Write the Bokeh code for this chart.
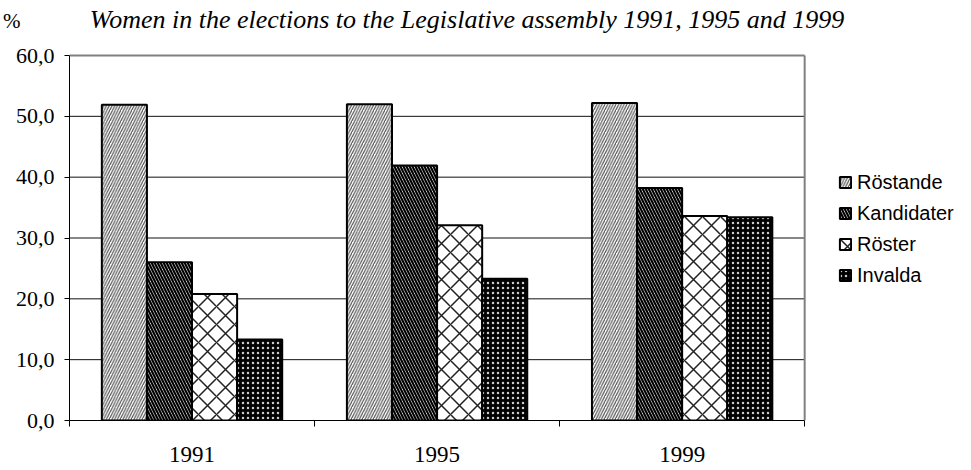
from bokeh.plotting import figure
from bokeh.models import (ColumnDataSource, FixedTicker, Legend, LegendItem, Label,
                          Range1d, LinearAxis)
from bokeh.transform import dodge
from bokeh.embed import file_html
from bokeh.resources import INLINE

# ---- data ----
years = ["1991", "1995", "1999"]
series_names = ["Röstande", "Kandidater", "Röster", "Invalda"]
rostande = [51.9, 52.0, 52.2]
kandidater = [26.0, 41.9, 38.2]
roster = [20.8, 32.1, 33.6]
invalda = [13.3, 23.3, 33.4]
y_ticks = [0, 10, 20, 30, 40, 50, 60]
y_tick_labels = ["0,0", "10,0", "20,0", "30,0", "40,0", "50,0", "60,0"]
title_text = "Women in the elections to the Legislative assembly 1991, 1995 and 1999"
unit_text = "%"

# ---- layout constants ----
W, H = 955, 470
LEFT, BOTTOM = 68, 50
PLOT_RIGHT_PX, PLOT_TOP_PX = 804, 55          # where the chart box ends
n = len(years)
ymax = y_ticks[-1]
px_per_x = (PLOT_RIGHT_PX - LEFT) / n
px_per_y = (H - BOTTOM - PLOT_TOP_PX) / ymax
x_end = (W - LEFT) / px_per_x
y_end = (H - BOTTOM) / px_per_y

xpos = [i + 0.5 for i in range(n)]
src = ColumnDataSource(dict(x=xpos, Röstande=rostande, Kandidater=kandidater,
                            Röster=roster, Invalda=invalda))

p = figure(width=W, height=H, output_backend="svg", toolbar_location=None,
           x_range=Range1d(0, x_end), y_range=Range1d(0, y_end),
           min_border_left=LEFT, min_border_right=0, min_border_top=0,
           min_border_bottom=BOTTOM)
p.background_fill_color = "white"
p.border_fill_color = "white"
p.outline_line_color = None
p.grid.visible = False

# horizontal grid lines limited to the chart box
grid_vals = y_ticks[1:-1]
p.segment(x0=[0] * len(grid_vals), x1=[n] * len(grid_vals), y0=grid_vals, y1=grid_vals,
          line_color="#111111", line_width=1)

# y axis
p.yaxis.ticker = FixedTicker(ticks=y_ticks)
p.yaxis.bounds = (0, ymax)
p.yaxis.major_label_overrides = {t: l for t, l in zip(y_ticks, y_tick_labels)}
p.yaxis.major_tick_in = 0
p.yaxis.major_tick_out = 5
p.yaxis.minor_tick_line_color = None
p.yaxis.major_label_standoff = 10
p.yaxis.axis_line_color = "black"
p.yaxis.major_tick_line_color = "black"
p.yaxis.major_label_text_font = "Liberation Serif"
p.yaxis.major_label_text_font_size = "22px"
p.yaxis.major_label_text_color = "black"

# unit "%" shown as an outer left axis label
unit_pos = y_end - 20 / px_per_y
unit_axis = LinearAxis(ticker=FixedTicker(ticks=[unit_pos]),
                       major_label_overrides={unit_pos: unit_text},
                       axis_line_color=None, major_tick_line_color=None,
                       minor_tick_line_color=None, major_tick_in=0, major_tick_out=0,
                       major_label_standoff=-8,
                       major_label_text_font="Liberation Serif",
                       major_label_text_font_size="21px",
                       major_label_text_color="black")
p.add_layout(unit_axis, "left")

# x axis
p.xaxis.ticker = FixedTicker(ticks=xpos, minor_ticks=list(range(n + 1)))
p.xaxis.bounds = (0, n)
p.xaxis.major_label_overrides = {x: y for x, y in zip(xpos, years)}
p.xaxis.major_tick_line_color = None
p.xaxis.major_tick_out = 0
p.xaxis.major_tick_in = 0
p.xaxis.minor_tick_in = 0
p.xaxis.minor_tick_out = 6
p.xaxis.minor_tick_line_color = "black"
p.xaxis.axis_line_color = "black"
p.xaxis.major_label_standoff = 20
p.xaxis.major_label_text_font = "Liberation Serif"
p.xaxis.major_label_text_font_size = "23px"
p.xaxis.major_label_text_color = "black"

# chart box top and right edges
p.segment(x0=[0, n], y0=[ymax, 0], x1=[n, n], y1=[ymax, ymax],
          line_color="#808080", line_width=2)

w = 0.184
offsets = [-0.276, -0.092, 0.092, 0.276]
styles = [
    dict(fill_color="white", hatch_pattern="/", hatch_color="#555555", hatch_scale=5.5, hatch_weight=1.2),
    dict(fill_color="white", hatch_pattern="\\", hatch_color="black", hatch_scale=6, hatch_weight=2.2),
    dict(fill_color="white", hatch_pattern="x", hatch_color="#222222", hatch_scale=18, hatch_weight=1.5),
    dict(fill_color="black", hatch_pattern=".", hatch_color="#cccccc", hatch_scale=5, hatch_weight=1),
]
items = []
for name, off, st in zip(series_names, offsets, styles):
    r = p.vbar(x=dodge("x", off, range=p.x_range), top=name, width=w, bottom=0,
               source=src, line_color="black", line_width=2, **st)
    items.append(LegendItem(label=name, renderers=[r]))

legend = Legend(items=items, location=(769, 133), orientation="vertical",
                background_fill_alpha=0, border_line_color=None,
                glyph_width=14, glyph_height=14, label_standoff=5,
                spacing=7, label_height=24, padding=0, margin=0,
                label_text_font="Liberation Sans", label_text_font_size="20px",
                label_text_color="black")
p.add_layout(legend, "center")

p.add_layout(Label(x=(466 - LEFT) / px_per_x, y=y_end - 19 / px_per_y, text=title_text,
                   text_align="center", text_baseline="alphabetic",
                   text_font="Liberation Serif", text_font_style="italic",
                   text_font_size="26px", text_color="black"))

open("out.html", "w").write(file_html(p, INLINE))
